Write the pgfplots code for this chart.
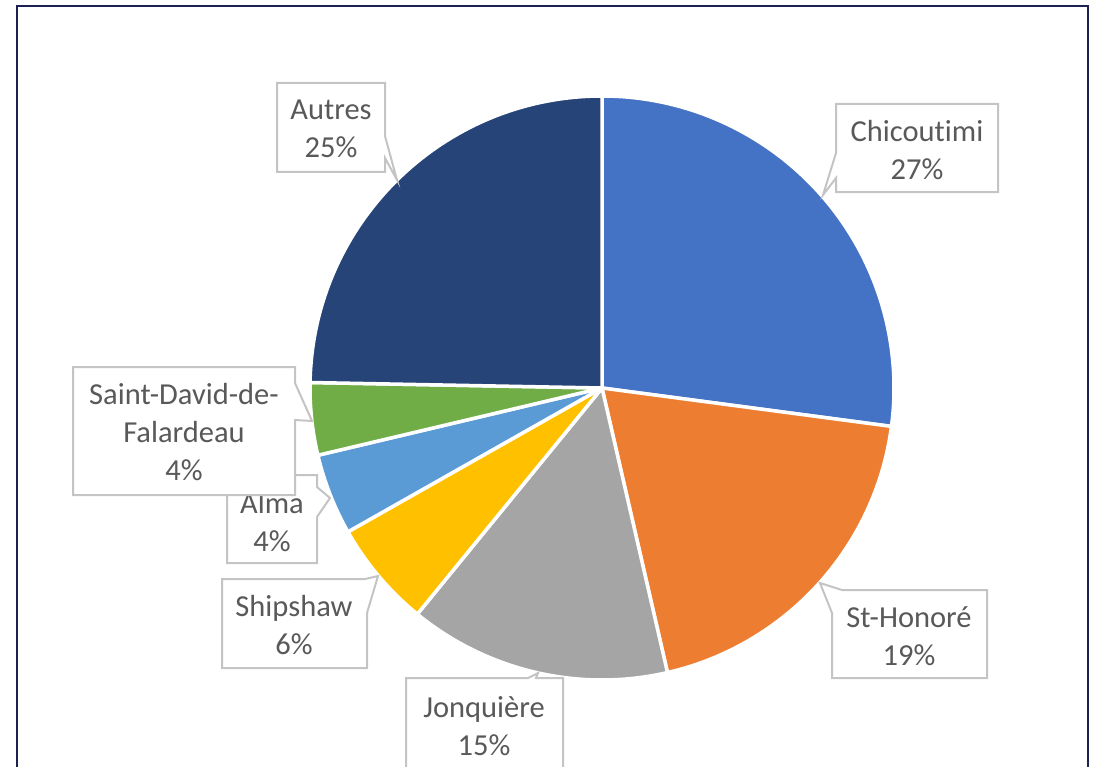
\documentclass[border=0pt]{standalone}
\usepackage{pgfplots}
\usepackage{pgfplotstable}
\pgfplotsset{compat=1.18}
\usepackage{fontspec}
\setmainfont[Ligatures=NoCommon]{Carlito}
\definecolor{slice0}{HTML}{4472C4}
\definecolor{slice1}{HTML}{ED7D31}
\definecolor{slice2}{HTML}{A5A5A5}
\definecolor{slice3}{HTML}{FFC000}
\definecolor{slice4}{HTML}{5B9BD5}
\definecolor{slice5}{HTML}{70AD47}
\definecolor{slice6}{HTML}{264478}
\definecolor{lbl}{HTML}{595959}
\definecolor{cbord}{HTML}{C4C4C4}
\definecolor{framec}{HTML}{1C2152}

\pgfplotstableread{
name value
Chicoutimi 27.1
St-Honore 19.3
Jonquiere 14.5
Shipshaw 5.9
Alma 4.5
SDF 4.0
Autres 24.7
}\piedata

\tikzset{callout/.style={draw=cbord, line width=2pt, fill=white, line join=miter},
  lab/.style={text=lbl, align=center, font=\fontsize{30.5}{38}\selectfont}}

\begin{document}
\begin{tikzpicture}
\useasboundingbox (0,0) rectangle (1099pt,767pt);
\begin{axis}[at={(0,0)}, anchor=south west, x=1pt, y=1pt,
  xmin=0, xmax=1099, ymin=0, ymax=767, y dir=reverse,
  hide axis, clip=false]
% frame
\draw[framec, line width=2.8pt] (axis cs:17,6) rectangle (axis cs:1088,800);
% pie
\def\cum{0}
\pgfplotsforeachungrouped \i in {0,...,6}{%
  \pgfplotstablegetelem{\i}{value}\of\piedata
  \pgfmathsetmacro\angA{90-3.6*\cum}%
  \pgfmathsetmacro\cum{\cum+\pgfplotsretval}%
  \pgfmathsetmacro\angB{90-3.6*\cum}%
  \edef\temp{\noexpand\filldraw[fill=slice\i, draw=white, line width=3.5pt, line join=round] (axis cs:602,388) -- ++(\angA:292pt) arc[start angle=\angA, end angle=\angB, radius=292pt] -- cycle;}%
  \temp
}
% callouts
\draw[callout] (axis cs:277,83) -- (axis cs:385,83) -- (axis cs:385,136) -- (axis cs:397,180) -- (axis cs:385,158) -- (axis cs:385,172) -- (axis cs:277,172) -- cycle;
\node[lab] at (axis cs:331,129) {Autres\\25\%};

\draw[callout] (axis cs:836,104) -- (axis cs:998,104) -- (axis cs:998,192) -- (axis cs:836,192) -- (axis cs:836,178) -- (axis cs:823,195) -- (axis cs:836,153) -- cycle;
\node[lab] at (axis cs:917,150) {Chicoutimi\\27\%};

\draw[callout] (axis cs:832,678) -- (axis cs:832,613) -- (axis cs:820,583) -- (axis cs:842,590) -- (axis cs:987,590) -- (axis cs:987,678) -- cycle;
\node[lab] at (axis cs:909,636) {St-Honoré\\19\%};

\draw[callout] (axis cs:406,790) -- (axis cs:406,678) -- (axis cs:528,678) -- (axis cs:538,673) -- (axis cs:536,678) -- (axis cs:563,678) -- (axis cs:563,790);
\node[lab] at (axis cs:484,726) {Jonquière\\15\%};

\draw[callout] (axis cs:222,579) -- (axis cs:365,579) -- (axis cs:378,576) -- (axis cs:367,613) -- (axis cs:367,668) -- (axis cs:222,668) -- cycle;
\node[lab] at (axis cs:294,625) {Shipshaw\\6\%};

\draw[callout] (axis cs:227,475) -- (axis cs:317,475) -- (axis cs:317,487) -- (axis cs:330,498) -- (axis cs:317,517) -- (axis cs:317,563) -- (axis cs:227,563) -- cycle;
\node[lab] at (axis cs:272,522) {Alma\\4\%};

\draw[callout] (axis cs:73,367) -- (axis cs:295,367) -- (axis cs:295,383) -- (axis cs:312,421) -- (axis cs:295,420) -- (axis cs:295,495) -- (axis cs:73,495) -- cycle;
\node[lab] at (axis cs:184,432) {Saint-David-de-\\Falardeau\\4\%};
\end{axis}
\end{tikzpicture}
\end{document}
